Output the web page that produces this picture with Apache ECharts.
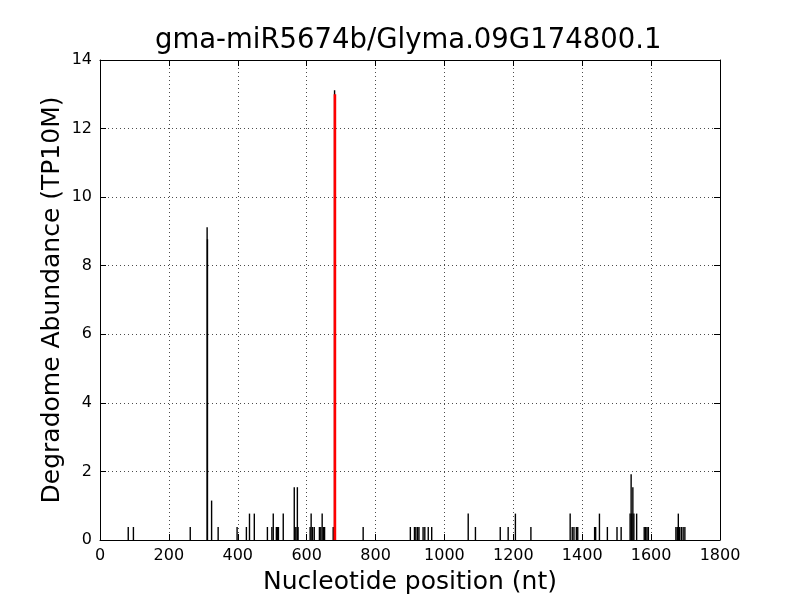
<!DOCTYPE html>
<html>
<head>
<meta charset="utf-8">
<script src="https://cdn.jsdelivr.net/npm/echarts@6/dist/echarts.min.js"></script>
<style>html,body{margin:0;padding:0;background:#fff;}#c{width:800px;height:600px;}</style>
</head>
<body>
<div id="c"></div>
<script>
var titleText = 'gma-miR5674b/Glyma.09G174800.1';
var xLabel = 'Nucleotide position (nt)';
var yLabel = 'Degradome Abundance (TP10M)';
var xTicks = [0, 200, 400, 600, 800, 1000, 1200, 1400, 1600, 1800];
var yTicks = [0, 2, 4, 6, 8, 10, 12, 14];

var positions = [82, 97, 262, 311, 312, 324, 343, 398, 425, 434, 448, 486, 499, 503, 512, 515, 518, 532,
  564, 566, 569, 573, 575, 610, 613, 617, 622, 637, 641, 645, 649, 652, 677, 681, 764,
  901, 913, 917, 922, 926, 938, 943, 953, 963, 1069, 1090, 1162, 1185, 1206, 1251,
  1365, 1371, 1376, 1383, 1387, 1436, 1439, 1450, 1473, 1501, 1513,
  1539, 1542, 1544, 1547, 1550, 1558, 1580, 1584, 1588, 1592,
  1672, 1676, 1679, 1683, 1688, 1693, 1698];
var abundances = [0.38, 0.38, 0.38, 9.12, 8.77, 1.15, 0.38, 0.38, 0.38, 0.77, 0.77, 0.38, 0.38, 0.77, 0.38, 0.38, 0.38, 0.77,
  1.54, 0.38, 0.38, 1.54, 0.38, 0.38, 0.77, 0.38, 0.38, 0.38, 0.38, 0.77, 0.38, 0.38, 0.38, 13.12, 0.38,
  0.38, 0.38, 0.38, 0.38, 0.38, 0.38, 0.38, 0.38, 0.38, 0.77, 0.38, 0.38, 0.38, 0.77, 0.38,
  0.77, 0.38, 0.38, 0.38, 0.38, 0.38, 0.38, 0.77, 0.38, 0.38, 0.38,
  0.77, 1.92, 0.77, 1.54, 0.77, 0.77, 0.38, 0.38, 0.38, 0.38,
  0.38, 0.38, 0.77, 0.38, 0.38, 0.38, 0.38];
var targetPositions = [682];
var targetAbundances = [13.0];

var blackData = positions.map(function (p, i) { return [p, abundances[i]]; });
var redData = targetPositions.map(function (p, i) { return [p, targetAbundances[i]]; });

function makeRender(w) {
  return function (params, api) {
    var top = api.coord([api.value(0), api.value(1)]);
    var base = api.coord([api.value(0), 0]);
    return {
      type: 'rect',
      shape: { x: top[0] - w / 2, y: top[1], width: w, height: base[1] - top[1] },
      style: { fill: api.visual('color') }
    };
  };
}

var font = 'DejaVu Sans';
var gridLine = { show: true, lineStyle: { color: '#000', type: [1, 3], width: 1, opacity: 0.7 } };

var chart = echarts.init(document.getElementById('c'), null, { renderer: 'canvas' });
chart.setOption({
  animation: false,
  backgroundColor: '#fff',
  graphic: [{
    type: 'text', left: 410 - 255, top: 27,
    style: { text: titleText, fontFamily: font, fontSize: 27.5, fill: '#000', width: 510, align: 'center' }
  }],
  grid: { left: 100, right: 80, top: 60, bottom: 60 },
  xAxis: [{
    type: 'value', min: 0, max: 1800, interval: 200,
    name: xLabel, nameLocation: 'middle', nameGap: 30, nameMoveOverlap: false,
    nameTextStyle: { fontFamily: font, fontSize: 25, color: '#000' },
    axisLine: { show: true, onZero: false, lineStyle: { color: '#000', width: 1 } },
    axisTick: { show: true, inside: true, length: 6, lineStyle: { color: '#000' } },
    axisLabel: { fontFamily: font, fontSize: 16, color: '#000', margin: 8,
      formatter: function (v) { return xTicks.indexOf(v) >= 0 ? String(v) : ''; } },
    splitLine: gridLine
  }, {
    type: 'value', min: 0, max: 1800, interval: 200, position: 'top',
    axisLine: { show: true, onZero: false, lineStyle: { color: '#000', width: 1 } },
    axisTick: { show: true, inside: true, length: 6, lineStyle: { color: '#000' } },
    axisLabel: { show: false }, splitLine: { show: false }
  }],
  yAxis: [{
    type: 'value', min: 0, max: 14, interval: 2,
    name: yLabel, nameLocation: 'middle', nameGap: 35, nameMoveOverlap: false,
    nameTextStyle: { fontFamily: font, fontSize: 25, color: '#000' },
    axisLine: { show: true, onZero: false, lineStyle: { color: '#000', width: 1 } },
    axisTick: { show: true, inside: true, length: 6, lineStyle: { color: '#000' } },
    axisLabel: { fontFamily: font, fontSize: 16, color: '#000', margin: 8,
      formatter: function (v) { return yTicks.indexOf(v) >= 0 ? String(v) : ''; } },
    splitLine: gridLine
  }, {
    type: 'value', min: 0, max: 14, interval: 2, position: 'right',
    axisLine: { show: true, onZero: false, lineStyle: { color: '#000', width: 1 } },
    axisTick: { show: true, inside: true, length: 6, lineStyle: { color: '#000' } },
    axisLabel: { show: false }, splitLine: { show: false }
  }],
  series: [{
    type: 'custom', name: 'reads', renderItem: makeRender(1.4),
    data: blackData, itemStyle: { color: '#000' }, encode: { x: 0, y: 1 }, z: 2
  }, {
    type: 'custom', name: 'target', renderItem: makeRender(2.6),
    data: redData, itemStyle: { color: '#ff0000' }, encode: { x: 0, y: 1 }, z: 3
  }]
});
</script>
</body>
</html>
